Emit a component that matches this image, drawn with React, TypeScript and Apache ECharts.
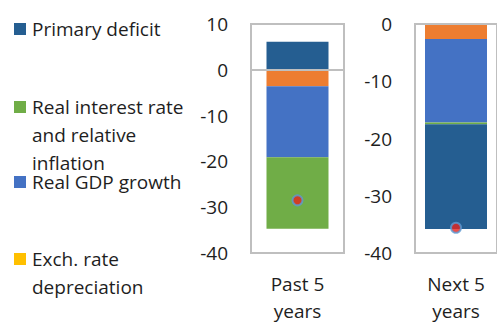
import React, { useEffect, useRef } from "react";
import * as echarts from "echarts";

// Contributions to the change in debt, per period (percentage points)
const periods = ["Past 5\nyears", "Next 5\nyears"];
const seriesNames = [
  "Residual",
  "Exch. rate depreciation",
  "Real GDP growth",
  "Real interest rate and relative inflation",
  "Primary deficit",
];
const seriesColors = ["#ED7D31", "#FFC000", "#4472C4", "#70AD47", "#255E91"];
const pastValues = [-3.6, 0, -15.5, -15.6, 6.1];
const nextValues = [-2.6, 0, -14.6, -0.3, -18.3];
const totalChange = [-28.5, -35.6];

// Legend entries as shown (top to bottom)
const legendLabels = [
  "Primary deficit",
  "Real interest rate\nand relative\ninflation",
  "Real GDP growth",
  "Exch. rate\ndepreciation",
];
const legendColors = ["#255E91", "#70AD47", "#4472C4", "#FFC000"];

const pastTicks = { min: -40, max: 10, interval: 10 };
const nextTicks = { min: -40, max: 0, interval: 10 };

const FONT = "'Open Sans', 'Noto Sans', sans-serif";
const FONT_SIZE = 19;
const TEXT = "#1E1E1E";
const GRID_GRAY = "#BFBFBF";

export default function App() {
  const ref = useRef<HTMLDivElement>(null);

  useEffect(() => {
    if (!ref.current) return;
    const chart = echarts.init(ref.current, undefined, { renderer: "svg" });

    const grids = [
      { left: 251, top: 24, width: 93, height: 233 },
      { left: 415, top: 24, width: 93, height: 233 },
    ];

    const xAxes = periods.map((p, i) => ({
      type: "category",
      gridIndex: i,
      data: [p],
      axisLine: { show: false, onZero: false },
      axisTick: { show: false },
      axisLabel: {
        color: TEXT,
        fontFamily: FONT,
        fontSize: FONT_SIZE,
        lineHeight: 27,
        margin: 17,
      },
    }));

    const yAxes = [pastTicks, nextTicks].map((t, i) => ({
      type: "value",
      gridIndex: i,
      min: t.min,
      max: t.max,
      interval: t.interval,
      axisLine: { show: false },
      axisTick: { show: false },
      splitLine: { show: false },
      axisLabel: {
        color: TEXT,
        fontFamily: FONT,
        fontSize: FONT_SIZE,
        margin: 23,
      },
    }));

    const barSeries: any[] = [];
    [pastValues, nextValues].forEach((vals, gi) => {
      vals.forEach((v, si) => {
        barSeries.push({
          type: "bar",
          name: seriesNames[si],
          xAxisIndex: gi,
          yAxisIndex: gi,
          stack: "total" + gi,
          barWidth: 62,
          itemStyle: { color: seriesColors[si] },
          data: [v],
          markLine:
            si === 0
              ? {
                  silent: true,
                  symbol: "none",
                  label: { show: false },
                  lineStyle: { color: GRID_GRAY, width: 2, type: "solid" },
                  data: [{ yAxis: 0 }],
                }
              : undefined,
        });
      });
    });

    const dotSeries = totalChange.map((v, gi) => ({
      type: "scatter",
      name: "Change in debt",
      xAxisIndex: gi,
      yAxisIndex: gi,
      symbol: "circle",
      symbolSize: 10,
      itemStyle: { color: "#E8231C", borderColor: "#5B9BD5", borderWidth: 2 },
      data: [v],
      z: 5,
    }));

    const legendTops = [29, 107, 182, 259];
    const legendGraphics: any[] = [];
    legendLabels.forEach((label, i) => {
      legendGraphics.push({
        type: "rect",
        shape: { x: 14, y: legendTops[i] - 6, width: 12, height: 12 },
        style: { fill: legendColors[i] },
      });
      legendGraphics.push({
        type: "text",
        x: 32,
        y: legendTops[i] - 14,
        style: {
          text: label,
          fill: TEXT,
          font: `${FONT_SIZE}px ${FONT}`,
          lineHeight: 28,
          textVerticalAlign: "top",
        },
      });
    });

    chart.setOption({
      animation: false,
      grid: grids.map((g) => ({
        ...g,
        show: true,
        borderColor: GRID_GRAY,
        borderWidth: 2,
        backgroundColor: "transparent",
      })),
      xAxis: xAxes,
      yAxis: yAxes,
      series: [...barSeries, ...dotSeries],
      graphic: legendGraphics,
    });

    return () => chart.dispose();
  }, []);

  return (
    <div
      ref={ref}
      style={{
        position: "fixed",
        left: 0,
        top: 0,
        width: 497,
        height: 324,
        background: "#ffffff",
      }}
    />
  );
}
